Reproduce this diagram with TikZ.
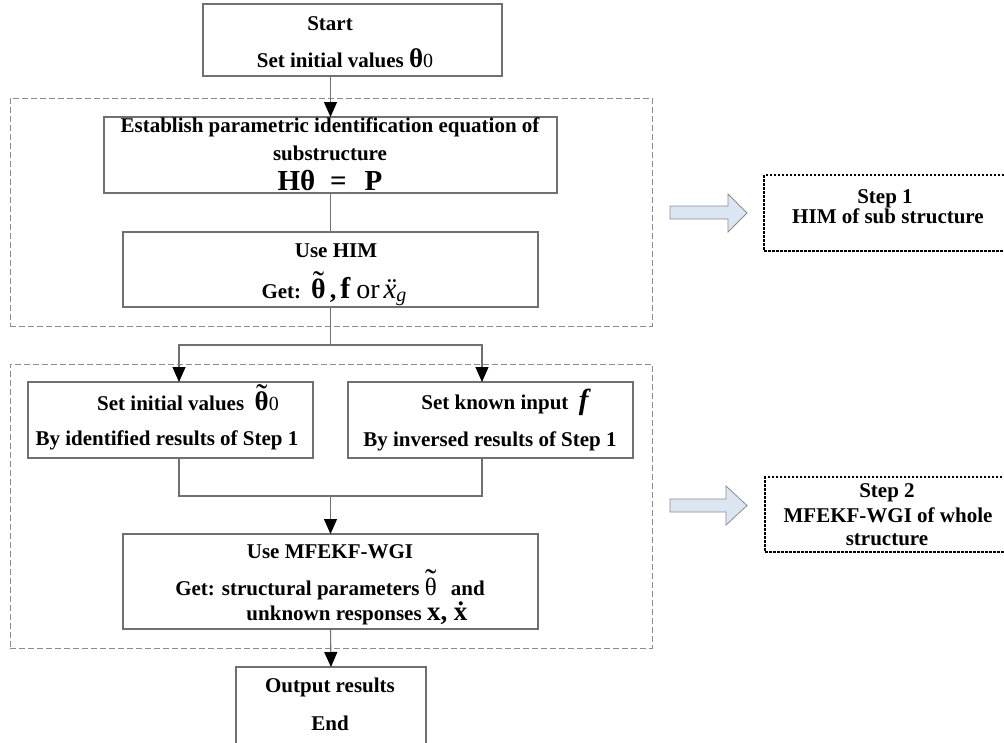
\documentclass[tikz,border=0pt]{standalone}
\usepackage{fontspec}
\setmainfont{Liberation Serif}
\usetikzlibrary{arrows.meta}
\definecolor{boxgray}{HTML}{707070}
\definecolor{grpgray}{HTML}{8C8C8C}
\definecolor{arrfill}{HTML}{DCE6F2}
\definecolor{arredge}{HTML}{8C8C8C}
\newcommand\fsz[1]{\fontsize{#1}{#1}\selectfont}
\newcommand\ovl[2]{\ooalign{\hfil#1\hfil\cr\hfil#2\hfil\cr}}
\newcommand\tilth[2]{{\fsz{#1}\ovl{θ}{\smash{\raisebox{#2}{\mdseries\fsz{34}˜}}}}}
\begin{document}
\begin{tikzpicture}[x=1pt,y=-1pt,
  box/.style={draw=boxgray,line width=1.1pt,inner sep=0pt,outer sep=0pt},
  grp/.style={draw=grpgray,line width=0.9pt,dash pattern=on 6pt off 3pt,inner sep=0pt},
  stepbox/.style={draw=black,line width=1.2pt,dash pattern=on 2.5pt off 1.5pt,inner sep=0pt},
  txt/.style={anchor=base,inner sep=0pt,font=\fsz{21}\bfseries},
  line/.style={draw=boxgray,line width=1.1pt},
  arr/.style={line,-{Triangle[width=13pt,length=15pt,color=black]}},
  bigarr/.style={fill=arrfill,draw=arredge,line width=0.8pt}]
\useasboundingbox (0,0) rectangle (1004,742);
\clip (0,0) rectangle (1004,742);
\fill[white] (0,0) rectangle (1004,742);

% groups
\node[grp,minimum width=642pt,minimum height=228pt] (g1) at (331,212) {};
\node[grp,minimum width=642pt,minimum height=284pt] (g2) at (331,506) {};

% boxes
\node[box,minimum width=299pt,minimum height=72pt] (start) at (352.5,40) {};
\node[box,minimum width=453pt,minimum height=76pt] (est) at (330.5,155) {};
\node[box,minimum width=415pt,minimum height=75pt] (him) at (330.5,269.5) {};
\node[box,minimum width=285pt,minimum height=76pt] (lbox) at (170.5,420) {};
\node[box,minimum width=285pt,minimum height=76pt] (rbox) at (490.5,420) {};
\node[box,minimum width=415pt,minimum height=95pt] (mf) at (330.5,581.5) {};
\node[box,minimum width=190pt,minimum height=78pt] (out) at (331,706) {};
\node[stepbox,minimum width=248pt,minimum height=76pt] (st1) at (888,213) {};
\node[stepbox,minimum width=247pt,minimum height=75pt] (st2) at (888.5,514.5) {};

% texts
\node[txt] (s1) at (330,30) {Start};
\node[txt] (s2) at (345,67) {Set initial values {\fsz{27}θ}{\mdseries\fsz{20}0}};
\node[txt] (e1) at (330,132) {Establish parametric identification equation of};
\node[txt] (e2) at (330,160) {substructure};
\node[txt] (e3) at (330,190) {{\fsz{29}Hθ\hspace{15pt}=\hspace{18pt}P}};
\node[txt] (h1) at (336,257) {Use HIM};
\node[txt] (h2) at (334,298) {Get:\hspace{10pt}\tilth{28}{4pt}\hspace{4pt}{\fsz{26},}\hspace{4pt}{\fsz{30}f}\hspace{6pt}{\mdseries\fsz{28}or}\hspace{4pt}{\mdseries\itshape\fsz{29}\ovl{x}{¨}\raisebox{-3pt}{\fsz{20}g}}};
\node[txt] (l1) at (188,410) {Set initial values \ \tilth{27}{3pt}{\mdseries\fsz{20}0}};
\node[txt] (l2) at (167,445) {By identified results of Step 1};
\node[txt] (r1) at (505,409) {Set known input \ {\itshape\fsz{29}f}};
\node[txt] (r2) at (490,446) {By inversed results of Step 1};
\node[txt] (m1) at (330,558) {Use MFEKF-WGI};
\node[txt] (m2) at (330,595) {Get: structural parameters {\mdseries\tilth{25}{3pt}}\hspace{14pt}and};
\node[txt] (m3) at (357,620) {unknown responses {\fsz{27}x,\ \ovl{x}{˙}}};
\node[txt] (o1) at (330,692) {Output results};
\node[txt] (o2) at (330,730) {End};
\node[txt] (a1) at (885,203) {Step 1};
\node[txt] (a2) at (888,223) {HIM of sub structure};
\node[txt] (b1) at (887,497) {Step 2};
\node[txt] (b2) at (888,522) {MFEKF-WGI of whole};
\node[txt] (b3) at (887,545) {structure};

% connectors
\draw[arr] (est.north |- start.south) -- (est.north);
\draw[line] (est.south) -- (him.north);
\coordinate (split) at (330.5,345);
\draw[line] (him.south) -- (split);
\draw[arr] (split) -| ([xshift=8.5pt]lbox.north);
\draw[arr] (split) -| ([xshift=-8.5pt]rbox.north);
\coordinate (join) at (330.5,496);
\draw[line] ([xshift=8.5pt]lbox.south) |- (join);
\draw[line] ([xshift=-8.5pt]rbox.south) |- (join);
\draw[arr] (join) -- (mf.north);
\draw[arr] (mf.south) -- (out.north);

% big arrows
\draw[bigarr] (670,206) -- (728,206) -- (728,194) -- (747,213) -- (728,232) -- (728,219) -- (670,219) -- cycle;
\draw[bigarr] (670,499) -- (726,499) -- (726,486) -- (747,505.5) -- (726,525) -- (726,512) -- (670,512) -- cycle;
\end{tikzpicture}
\end{document}
